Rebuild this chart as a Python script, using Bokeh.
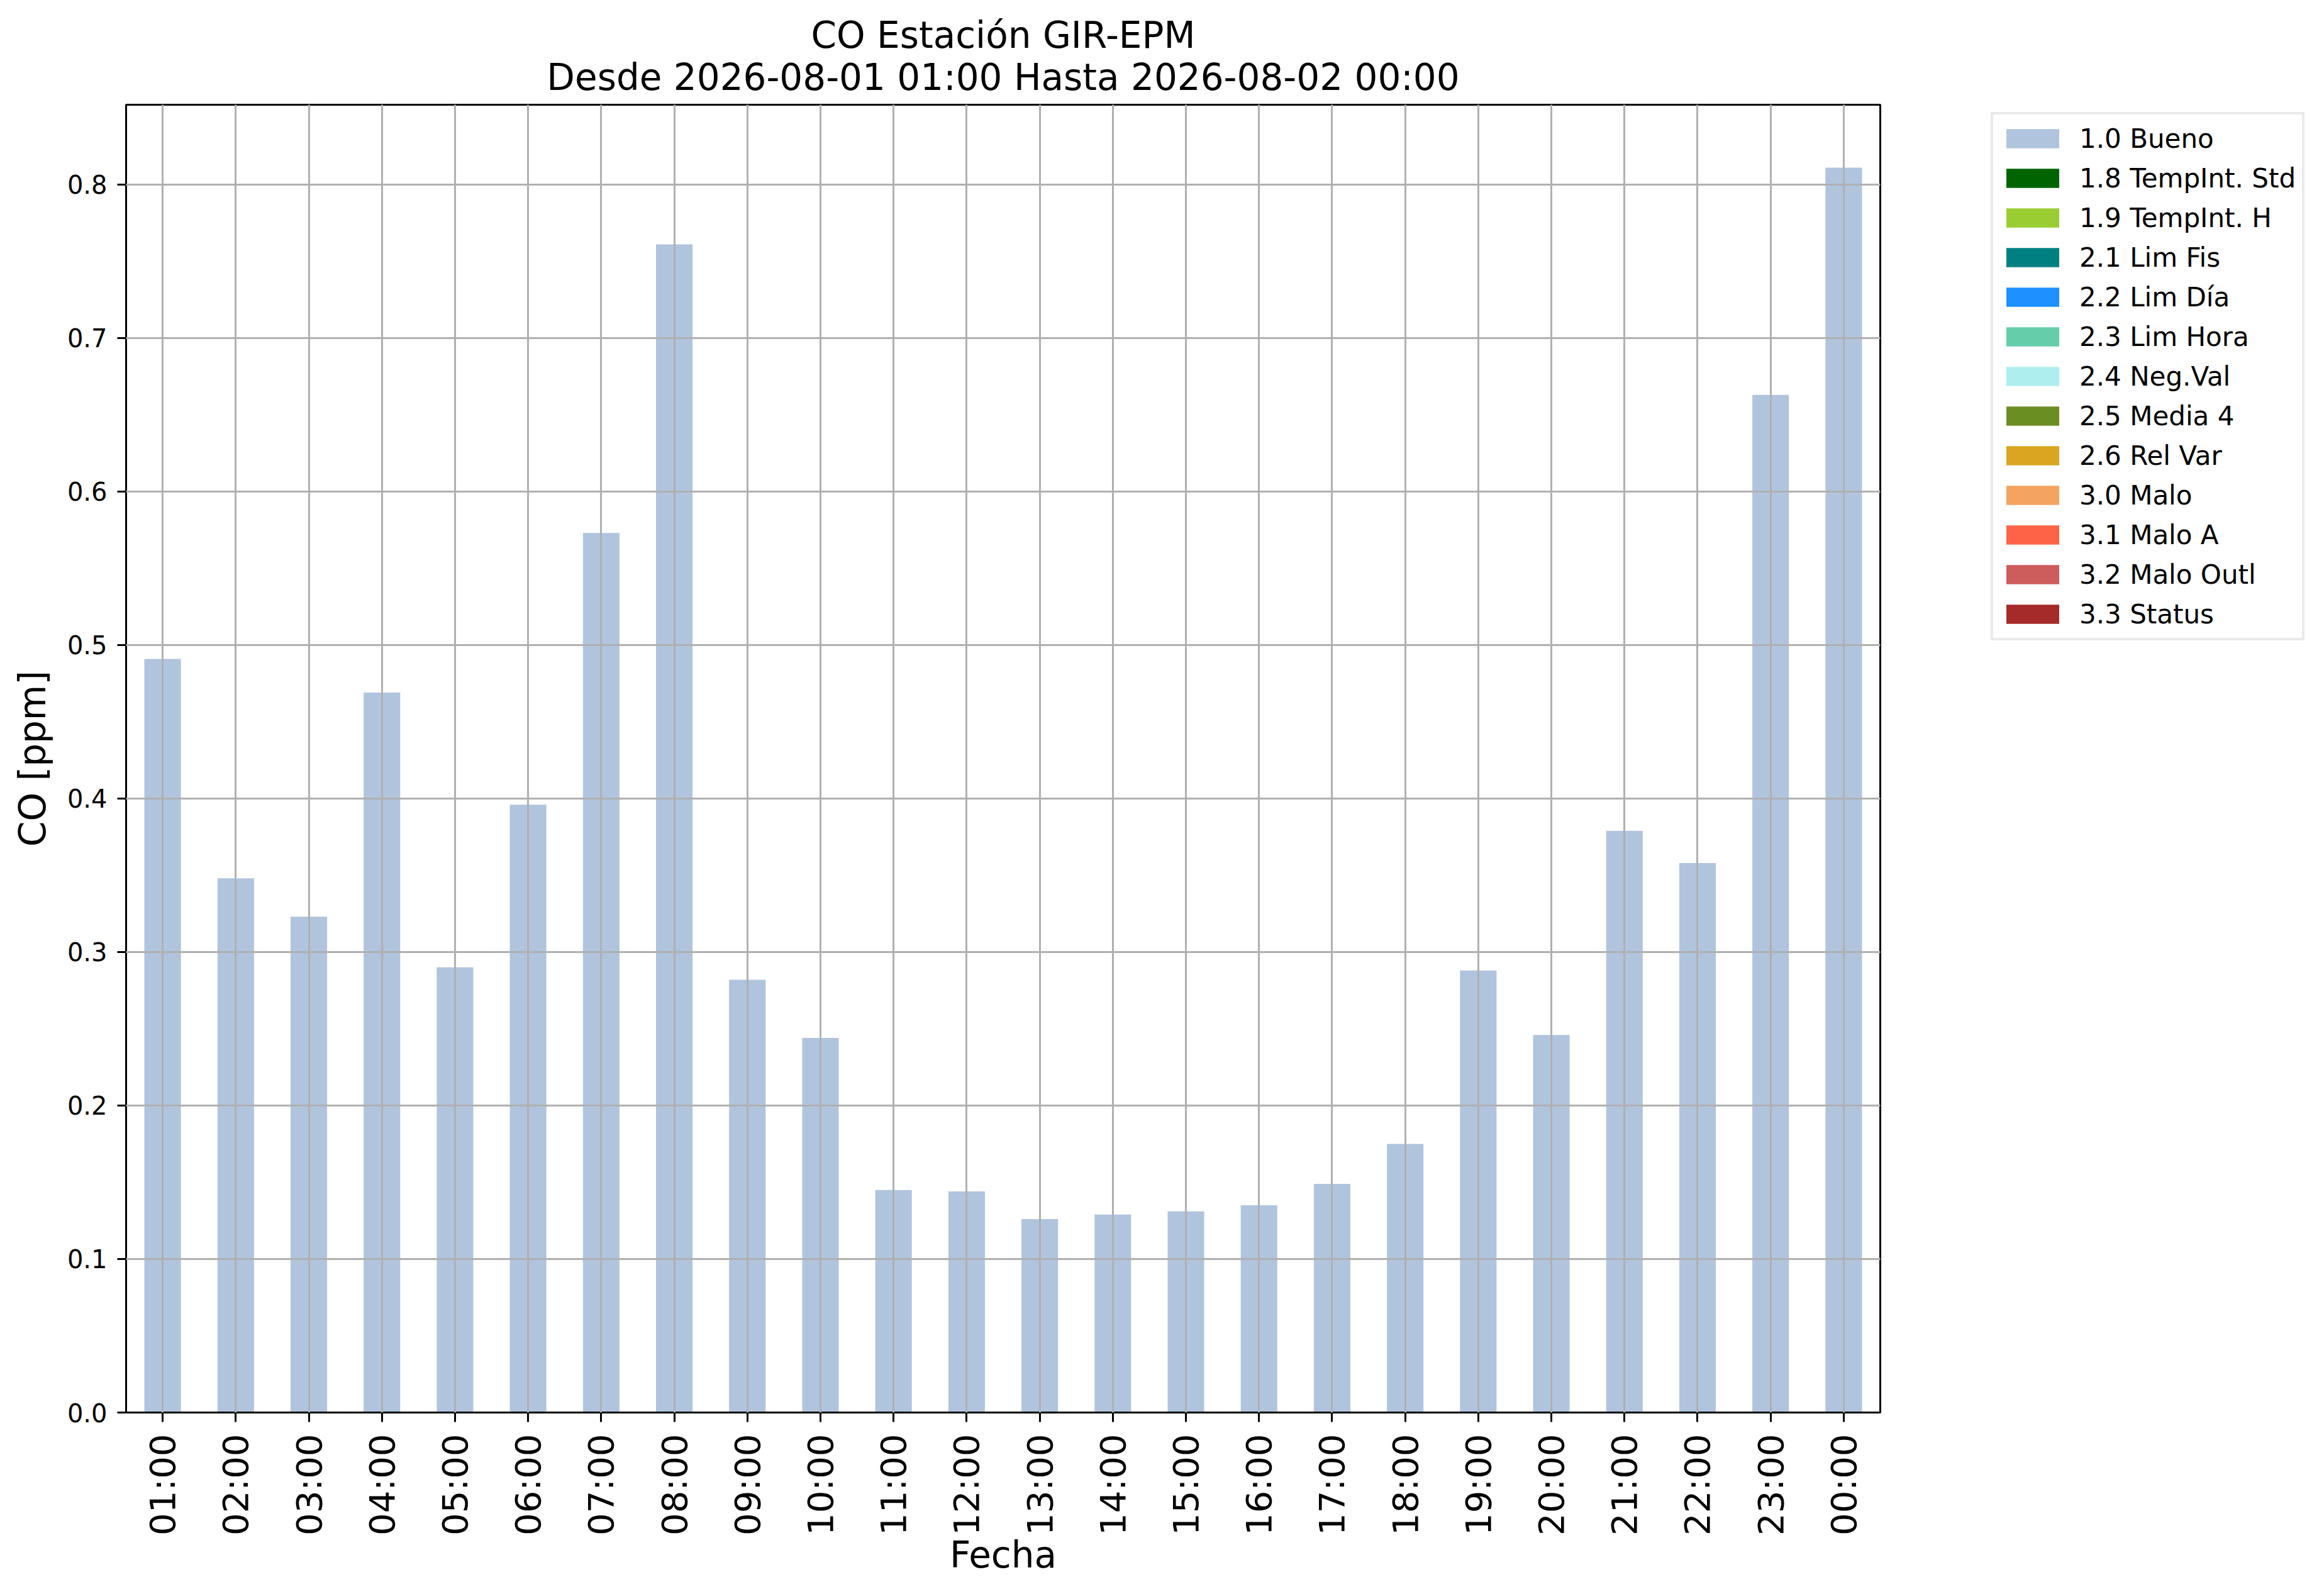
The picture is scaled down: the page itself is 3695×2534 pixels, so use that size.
import math
from bokeh.plotting import figure
from bokeh.layouts import row
from bokeh.models import (FactorRange, Range1d, FixedTicker, Legend, LegendItem,
                          Title, ColumnDataSource, PrintfTickFormatter)
from bokeh.embed import file_html
from bokeh.resources import INLINE

# ---------------- data ----------------
hours = ["01:00", "02:00", "03:00", "04:00", "05:00", "06:00", "07:00", "08:00",
         "09:00", "10:00", "11:00", "12:00", "13:00", "14:00", "15:00", "16:00",
         "17:00", "18:00", "19:00", "20:00", "21:00", "22:00", "23:00", "00:00"]
co_bueno = [0.491, 0.348, 0.323, 0.469, 0.290, 0.396, 0.573, 0.761,
            0.282, 0.244, 0.145, 0.144, 0.126, 0.129, 0.131, 0.135,
            0.149, 0.175, 0.288, 0.246, 0.379, 0.358, 0.663, 0.811]
flag_labels = ["1.0 Bueno", "1.8 TempInt. Std", "1.9 TempInt. H", "2.1 Lim Fis",
               "2.2 Lim Día", "2.3 Lim Hora", "2.4 Neg.Val", "2.5 Media 4",
               "2.6 Rel Var", "3.0 Malo", "3.1 Malo A", "3.2 Malo Outl", "3.3 Status"]
flag_colors = ["#B0C4DE", "#006400", "#9ACD32", "#008080", "#1E90FF", "#66CDAA",
               "#AFEEEE", "#6B8E23", "#DAA520", "#F4A460", "#FF6347", "#CD5C5C", "#A52A2A"]
# all other quality flags are empty (zero) for every hour
other_flags_value = [0.0] * len(hours)
y_ticks = [0.0, 0.1, 0.2, 0.3, 0.4, 0.5, 0.6, 0.7, 0.8]
y_max = 0.852
title_line1 = "CO Estación GIR-EPM"
title_line2 = "Desde 2026-08-01 01:00 Hasta 2026-08-02 00:00"
x_label = "Fecha"
y_label = "CO [ppm]"

FONT = "DejaVu Sans"
TOTAL_W, TOTAL_H = 3679, 2518
MAIN_W = 2992

# ---------------- main chart ----------------
p = figure(width=MAIN_W, height=TOTAL_H, x_range=FactorRange(factors=hours),
           y_range=Range1d(0, y_max), title=None, toolbar_location=None,
           output_backend="svg")
p.min_border_left = 200
p.min_border_right = 3
p.min_border_top = 166
p.min_border_bottom = 273
p.background_fill_color = "white"
p.border_fill_color = "white"
p.outline_line_color = "black"
p.outline_line_width = 3

src = ColumnDataSource(dict(x=hours, top=co_bueno))
p.vbar(x="x", top="top", bottom=0, width=0.5, source=src,
       fill_color=flag_colors[0], line_color=None)
for c in flag_colors[1:]:
    s = ColumnDataSource(dict(x=hours, top=other_flags_value))
    p.vbar(x="x", top="top", bottom=0, width=0.5, source=s,
           fill_color=c, line_color=None)

# grids (drawn above bars, as in the original)
p.xgrid.grid_line_color = "#b0b0b0"
p.xgrid.grid_line_width = 3
p.xgrid.level = "guide"
p.ygrid.grid_line_color = "#b0b0b0"
p.ygrid.grid_line_width = 3
p.ygrid.level = "guide"
p.ygrid.ticker = FixedTicker(ticks=y_ticks[1:])

for ax in (p.xaxis[0], p.yaxis[0]):
    ax.axis_line_color = "black"
    ax.axis_line_width = 3
    ax.major_tick_line_color = "black"
    ax.major_tick_line_width = 3
    ax.major_tick_in = 0
    ax.minor_tick_line_color = None
    ax.major_label_text_font = FONT
    ax.major_label_text_color = "black"
    ax.axis_label_text_font = FONT
    ax.axis_label_text_font_style = "normal"
    ax.axis_label_text_font_size = "58px"
    ax.axis_label_text_color = "black"

xa = p.xaxis[0]
xa.major_tick_out = 15
xa.major_label_orientation = math.pi / 2
xa.major_label_text_font_size = "56px"
xa.major_label_standoff = 19
xa.axis_label = x_label
xa.axis_label_standoff = -6

ya = p.yaxis[0]
ya.ticker = FixedTicker(ticks=y_ticks)
ya.formatter = PrintfTickFormatter(format="%.1f")
ya.major_tick_out = 14
ya.major_label_text_font_size = "40px"
ya.major_label_standoff = 16
ya.axis_label = y_label
ya.axis_label_standoff = 18

# titles (second line added first: nearest to the frame)
p.add_layout(Title(text=title_line2, align="center", text_font=FONT,
                   text_font_size="58px", text_font_style="normal",
                   text_color="black", standoff=20), "above")
p.add_layout(Title(text=title_line1, align="center", text_font=FONT,
                   text_font_size="58px", text_font_style="normal",
                   text_color="black", standoff=-26), "above")

# ---------------- legend panel (right of the chart) ----------------
pl = figure(width=TOTAL_W - MAIN_W, height=TOTAL_H, x_range=FactorRange(factors=hours),
            y_range=Range1d(-2, -1), title=None, toolbar_location=None,
            x_axis_location=None, y_axis_location=None, output_backend="svg")
pl.min_border_left = 0
pl.min_border_right = 0
pl.min_border_top = 0
pl.min_border_bottom = 0
pl.outline_line_color = None
pl.grid.visible = False
pl.background_fill_color = "white"
pl.border_fill_color = "white"

# legend proxies: same series, not drawn themselves
leg_renderers = []
leg_renderers.append(pl.vbar(x="x", top="top", bottom=0, width=0.5, source=src,
                             fill_color=flag_colors[0], line_color=None, visible=False))
for c in flag_colors[1:]:
    s = ColumnDataSource(dict(x=hours, top=other_flags_value))
    leg_renderers.append(pl.vbar(x="x", top="top", bottom=0, width=0.5, source=s,
                                 fill_color=c, line_color=None, visible=False))

items = [LegendItem(label=lab, renderers=[r]) for lab, r in zip(flag_labels, leg_renderers)]
# the legend figure's frame is aligned with the main frame (bottom at the x axis)
legend = Legend(items=items, location=(173, 1227), orientation="vertical",
                click_policy="none")
legend.label_text_font = FONT
legend.label_text_font_size = "42px"
legend.label_text_color = "black"
legend.glyph_width = 105
legend.glyph_height = 38
legend.label_height = 56
legend.label_standoff = 22
legend.spacing = 7
legend.padding = 10
legend.margin = 0
legend.border_line_color = "#d6d6d6"
legend.border_line_width = 4
legend.background_fill_color = "white"
legend.background_fill_alpha = 1.0
pl.add_layout(legend)

layout = row(p, pl, spacing=0)
open("out.html", "w").write(file_html(layout, INLINE))
